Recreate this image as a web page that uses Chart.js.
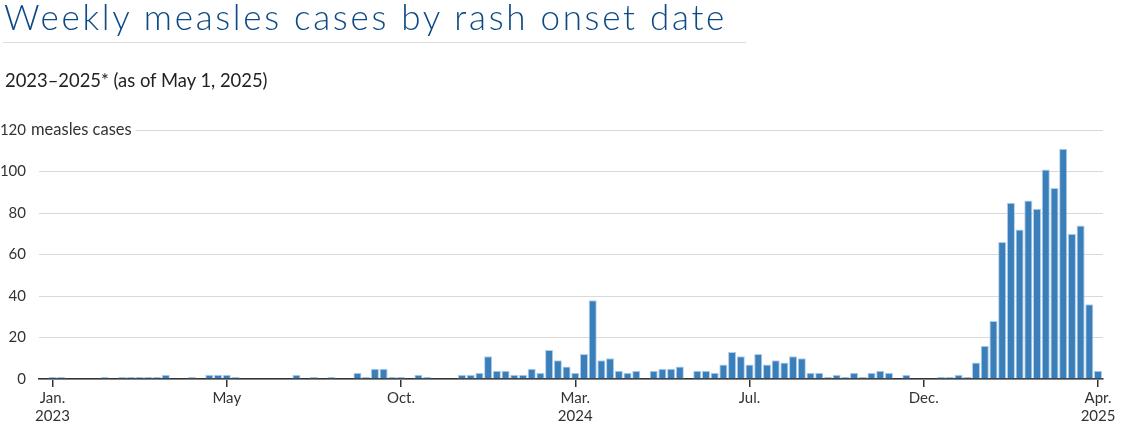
<!DOCTYPE html>
<html>
<head>
<meta charset="utf-8">
<title>Weekly measles cases by rash onset date</title>
<script src="https://cdn.jsdelivr.net/npm/chart.js@4.4.1/dist/chart.umd.min.js"></script>
<style>
  html, body { margin: 0; padding: 0; background: #fff; }
  body { width: 1128px; height: 433px; position: relative; overflow: hidden; }
  .wrap { position: absolute; left: 0; top: 0; width: 1128px; height: 433px; }
  h1 { position: absolute; left: 4px; top: -5px; margin: 0; z-index: 2;
       font: 300 35px Lato, sans-serif; letter-spacing: 2.7px; color: #0c4a86; white-space: nowrap; }
  .rule { position: absolute; left: 3px; top: 42px; width: 743px; height: 1px; background: #dcdcdc; }
  .sub { position: absolute; left: 5px; top: 69px; z-index: 2;
         font: 18.4px Lato, sans-serif; color: #222; white-space: nowrap; }
</style>
</head>
<body>
<h1>Weekly measles cases by rash onset date</h1>
<div class="rule"></div>
<div class="sub">2023–2025* (as of May 1, 2025)</div>
<div class="wrap"><canvas id="chart"></canvas></div>
<script>
// weekly case counts, week 0 = first week of Jan. 2023
const cases = [
  1, 1, 0, 0, 0, 0, 1, 0, 1, 1, 1, 1, 1, 2, 0, 0, 1, 0, 2, 2,
  2, 1, 0, 0, 0, 0, 0, 0, 2, 0, 1, 0, 1, 0, 0, 3, 1, 5, 5, 1,
  1, 0, 2, 1, 0, 0, 0, 2, 2, 3, 11, 4, 4, 2, 2, 5, 3, 14, 9, 6,
  3, 12, 38, 9, 10, 4, 3, 4, 0, 4, 5, 5, 6, 0, 4, 4, 3, 7, 13, 11,
  7, 12, 7, 9, 8, 11, 10, 3, 3, 1, 2, 1, 3, 1, 3, 4, 3, 0, 2, 0,
  0, 0, 1, 1, 2, 1, 8, 16, 28, 66, 85, 72, 86, 82, 101, 92, 111, 70, 74, 36,
  4
];

const tickWeeks = [0, 20, 40, 60, 80, 100, 120];
const tickLabels = [['Jan.', '2023'], 'May', 'Oct.', ['Mar.', '2024'], 'Jul.', 'Dec.', ['Apr.', '2025']];
const yMax = 120;
const yUnit = 'measles cases';

const tickFont = { family: 'Lato, sans-serif', size: 15 };

const unitLabel = {
  id: 'unitLabel',
  afterDraw(chart) {
    const { ctx, chartArea, scales } = chart;
    const yy = scales.y.getPixelForValue(yMax);
    ctx.save();
    ctx.font = '16.5px Lato, sans-serif';
    const x0 = 31;
    const w = ctx.measureText(yUnit).width;
    ctx.fillStyle = '#fff';
    ctx.fillRect(chartArea.left - 1, yy - 2, x0 + w + 4 - chartArea.left + 1, 4);
    ctx.fillStyle = '#333';
    ctx.textBaseline = 'middle';
    ctx.fillText(yUnit, x0, yy);
    ctx.restore();
  }
};

new Chart(document.getElementById('chart'), {
  type: 'bar',
  data: {
    datasets: [{
      data: cases.map((v, i) => ({ x: i, y: v })),
      backgroundColor: '#3a7fba',
      borderColor: '#b3d0eb',
      borderWidth: ctx => (ctx.raw && ctx.raw.y > 0 ? 1 : 0),
      barPercentage: 0.93,
      categoryPercentage: 1
    }]
  },
  options: {
    responsive: true,
    maintainAspectRatio: false,
    animation: false,
    layout: { padding: { top: 130, right: 25, left: 0, bottom: 0 } },
    plugins: { legend: { display: false }, tooltip: { enabled: false } },
    scales: {
      x: {
        type: 'linear',
        offset: false,
        min: -1.55,
        max: 120.57,
        afterBuildTicks: axis => { axis.ticks = tickWeeks.map(v => ({ value: v })); },
        afterFit: s => { s.height = 54; },
        ticks: {
          callback: v => tickLabels[tickWeeks.indexOf(v)],
          autoSkip: false,
          maxRotation: 0,
          padding: 2,
          color: '#333',
          font: tickFont
        },
        grid: { offset: false, drawOnChartArea: false, tickLength: 8, color: '#333', lineWidth: 1.5 },
        border: { color: '#333', width: 1.5 }
      },
      y: {
        min: 0,
        max: yMax,
        afterFit: s => { s.width = 39; },
        ticks: { stepSize: 20, padding: 13, color: '#333', font: tickFont },
        grid: { color: '#d9d9d9', drawTicks: false },
        border: { display: false }
      }
    }
  },
  plugins: [unitLabel]
});
</script>
</body>
</html>
